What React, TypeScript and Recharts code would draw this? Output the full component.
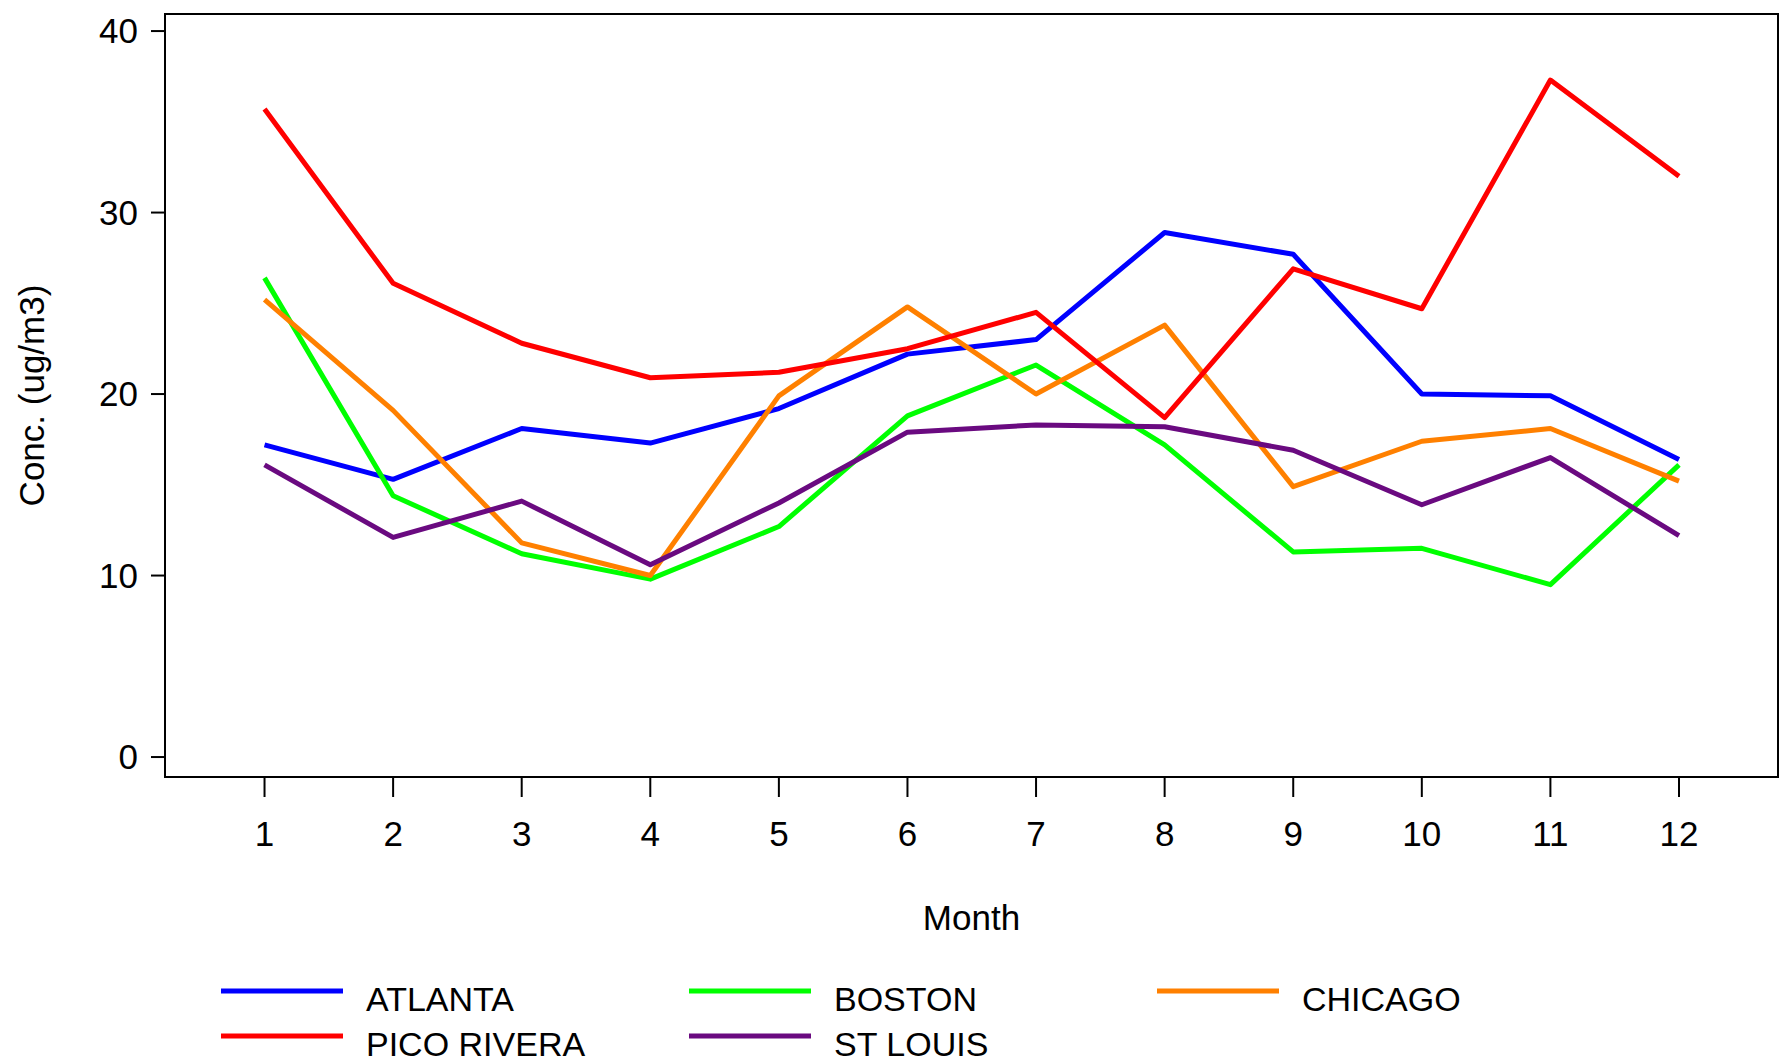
import React from "react";
import { LineChart, Line, XAxis, YAxis, Legend, ReferenceArea } from "recharts";

// Monthly mean concentrations (ug/m3)
const months = [1, 2, 3, 4, 5, 6, 7, 8, 9, 10, 11, 12];
const atlanta = [17.2, 15.3, 18.1, 17.3, 19.2, 22.2, 23.0, 28.9, 27.7, 20.0, 19.9, 16.4];
const boston = [26.4, 14.4, 11.2, 9.8, 12.7, 18.8, 21.6, 17.2, 11.3, 11.5, 9.5, 16.1];
const chicago = [25.2, 19.1, 11.8, 10.0, 19.9, 24.8, 20.0, 23.8, 14.9, 17.4, 18.1, 15.2];
const picoRivera = [35.7, 26.1, 22.8, 20.9, 21.2, 22.5, 24.5, 18.7, 26.9, 24.7, 37.3, 32.0];
const stLouis = [16.1, 12.1, 14.1, 10.6, 14.0, 17.9, 18.3, 18.2, 16.9, 13.9, 16.5, 12.2];
const yTicks = [0, 10, 20, 30, 40];

// axis ranges incl. the empty margin inside the frame (SAS-style box)
const xRange = [0.226, 12.77];
const yRange = [-1.1, 40.94];

const series = [
  { key: "atlanta", name: "ATLANTA", color: "#0000ff", values: atlanta },
  { key: "boston", name: "BOSTON", color: "#00ff00", values: boston },
  { key: "chicago", name: "CHICAGO", color: "#ff8000", values: chicago },
  { key: "picoRivera", name: "PICO RIVERA", color: "#ff0000", values: picoRivera },
  { key: "stLouis", name: "ST LOUIS", color: "#6a0a80", values: stLouis },
];

const data = months.map((m, i) => {
  const row: Record<string, number> = { month: m };
  series.forEach((s) => (row[s.key] = s.values[i]));
  return row;
});

const FONT = "'Liberation Sans', Arial, Helvetica, sans-serif";
const tickStyle = { fontSize: 35, fill: "#000", fontFamily: FONT };
const axisLine = { stroke: "#000", strokeWidth: 2 };

function LegendBlock() {
  // three columns, two rows, same order as the original
  return (
    <svg width={1779} height={104} style={{ display: "block", overflow: "visible" }}>
      {series.map((s, i) => {
        const col = i % 3;
        const row = Math.floor(i / 3);
        const x = 221 + col * 468;
        const y = 33 + row * 45;
        return (
          <g key={s.key}>
            <line x1={x} x2={x + 122} y1={y} y2={y} stroke={s.color} strokeWidth={5} />
            <text x={x + 145} y={y + 20} fontSize={34} fontFamily={FONT} fill="#000">
              {s.name}
            </text>
          </g>
        );
      })}
    </svg>
  );
}

export default function App() {
  return (
    <div style={{ position: "absolute", left: 0, top: 0, background: "#fff", fontFamily: FONT }}>
      <LineChart
        width={1779}
        height={1062}
        data={data}
        margin={{ top: 14, right: 1, left: 0, bottom: 125 }}
      >
        <XAxis
          dataKey="month"
          type="number"
          domain={xRange}
          ticks={months}
          height={160}
          tick={tickStyle}
          tickSize={20}
          tickMargin={24}
          tickLine={axisLine}
          axisLine={axisLine}
          label={({ viewBox }: any) => (
            <text
              x={viewBox.x + viewBox.width / 2}
              y={viewBox.y + 153}
              textAnchor="middle"
              fontSize={35}
              fontFamily={FONT}
              fill="#000"
            >
              Month
            </text>
          )}
        />
        <YAxis
          type="number"
          domain={yRange}
          ticks={yTicks}
          width={165}
          tick={tickStyle}
          tickSize={14}
          tickMargin={13}
          tickLine={axisLine}
          axisLine={axisLine}
          label={({ viewBox }: any) => {
            const cy = viewBox.y + viewBox.height / 2;
            return (
              <text
                x={44}
                y={cy}
                transform={`rotate(-90, 44, ${cy})`}
                textAnchor="middle"
                fontSize={35}
                fontFamily={FONT}
                fill="#000"
              >
                Conc. (ug/m3)
              </text>
            );
          }}
        />
        <ReferenceArea
          x1={xRange[0]}
          x2={xRange[1]}
          y1={yRange[0]}
          y2={yRange[1]}
          fill="none"
          stroke="#000"
          strokeWidth={2}
        />
        {series.map((s) => (
          <Line
            key={s.key}
            type="linear"
            dataKey={s.key}
            name={s.name}
            stroke={s.color}
            strokeWidth={5}
            strokeLinejoin="round"
            dot={false}
            activeDot={false}
            isAnimationActive={false}
          />
        ))}
        <Legend
          layout="horizontal"
          verticalAlign="middle"
          align="center"
          wrapperStyle={{ top: 958, left: 0, width: 1779 }}
          content={() => <LegendBlock />}
        />
      </LineChart>
    </div>
  );
}
